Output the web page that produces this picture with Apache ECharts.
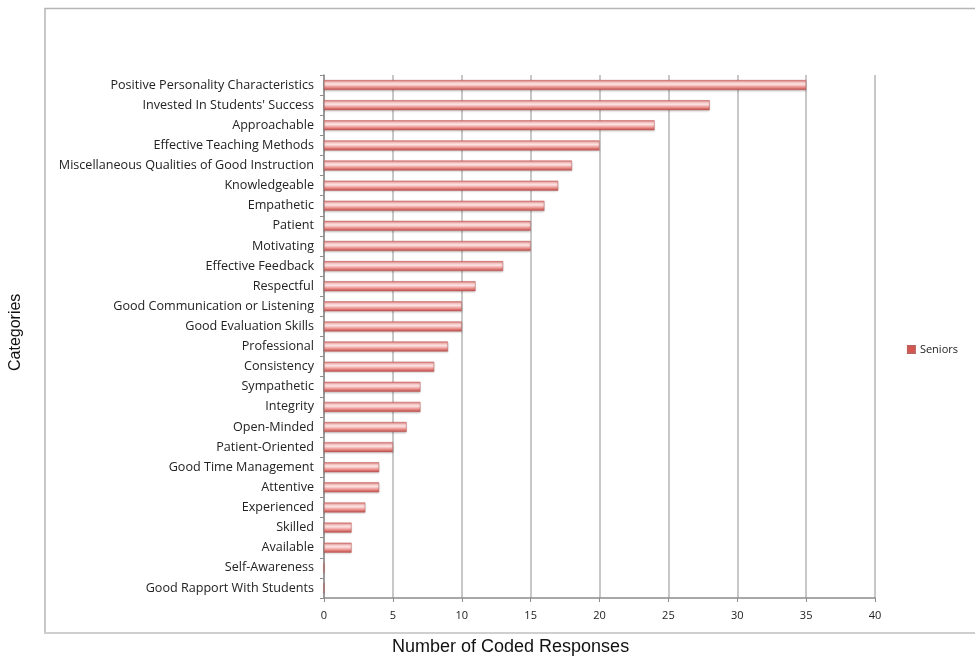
<!DOCTYPE html>
<html>
<head>
<meta charset="utf-8">
<script src="https://cdn.jsdelivr.net/npm/echarts@6/dist/echarts.min.js"></script>
<style>html,body{margin:0;padding:0;background:#fff;}#c{width:975px;height:659px;}</style>
</head>
<body>
<div id="c"></div>
<script>
var categories = [
  "Positive Personality Characteristics",
  "Invested In Students' Success",
  "Approachable",
  "Effective Teaching Methods",
  "Miscellaneous Qualities of Good Instruction",
  "Knowledgeable",
  "Empathetic",
  "Patient",
  "Motivating",
  "Effective Feedback",
  "Respectful",
  "Good Communication or Listening",
  "Good Evaluation Skills",
  "Professional",
  "Consistency",
  "Sympathetic",
  "Integrity",
  "Open-Minded",
  "Patient-Oriented",
  "Good Time Management",
  "Attentive",
  "Experienced",
  "Skilled",
  "Available",
  "Self-Awareness",
  "Good Rapport With Students"
];
var seniors = [35, 28, 24, 20, 18, 17, 16, 15, 15, 13, 11, 10, 10, 9, 8, 7, 7, 6, 5, 4, 4, 3, 2, 2, 0, 0];
var xTicks = [0, 5, 10, 15, 20, 25, 30, 35, 40];

var chart = echarts.init(document.getElementById('c'), null, {renderer: 'canvas'});
var barGrad = new echarts.graphic.LinearGradient(0, 0, 0, 1, [
  {offset: 0, color: '#df706d'},
  {offset: 0.22, color: '#f6c6c5'},
  {offset: 0.42, color: '#fce3e2'},
  {offset: 0.72, color: '#ea8f8c'},
  {offset: 1, color: '#b84744'}
]);
var labelFont = 'Open Sans';
chart.setOption({
  animation: false,
  textStyle: {fontFamily: labelFont},
  graphic: [
    {type: 'polyline', silent: true, shape: {points: [[45, 633], [45, 8.5], [975, 8.5]]},
     style: {fill: 'none', stroke: '#b5b5b5', lineWidth: 1.5}},
    {type: 'line', silent: true, shape: {x1: 44, y1: 633, x2: 975, y2: 633},
     style: {stroke: '#cfcfcf', lineWidth: 2}},
    {type: 'text', silent: true, left: 392, top: 638,
     style: {text: 'Number of Coded Responses', fontSize: 18, fill: '#111', fontFamily: 'Liberation Sans'}},
    {type: 'text', silent: true, rotation: Math.PI / 2, x: 8, y: 371,
     style: {text: 'Categories', fontSize: 16, fill: '#111', fontFamily: 'Liberation Sans', textVerticalAlign: 'top'}}
  ],
  legend: {
    right: 12, top: 339, orient: 'vertical',
    itemWidth: 7, itemHeight: 7, itemGap: 4,
    icon: 'rect',
    textStyle: {fontSize: 11, color: '#222', fontFamily: labelFont},
    data: [{name: 'Seniors', itemStyle: {color: '#d9534f'}}]
  },
  grid: {left: 324, right: 100, top: 75, bottom: 61},
  xAxis: {
    type: 'value', min: 0, max: 40, interval: 5,
    axisLine: {show: true, lineStyle: {color: '#8c8c8c', width: 1.5}},
    axisTick: {show: true, length: 4, lineStyle: {color: '#8c8c8c'}},
    axisLabel: {fontSize: 11, color: '#222', margin: 12, fontFamily: labelFont,
      formatter: function (v) { return xTicks.indexOf(v) >= 0 ? String(v) : ''; }},
    splitLine: {show: true, lineStyle: {color: '#c8c8c8', width: 2}}
  },
  yAxis: {
    type: 'category', data: categories, inverse: true,
    axisLine: {show: true, lineStyle: {color: '#8c8c8c', width: 1.5}},
    axisTick: {show: true, length: 4, lineStyle: {color: '#8c8c8c'}},
    axisLabel: {fontSize: 12.6, color: '#222', margin: 10, fontFamily: labelFont},
    splitLine: {show: false}
  },
  series: [{
    name: 'Seniors', type: 'bar', data: seniors, barWidth: 10,
    itemStyle: {color: barGrad, borderColor: '#c0605d', borderWidth: 0.5,
      shadowColor: 'rgba(0,0,0,0.2)', shadowBlur: 2, shadowOffsetY: 1}
  }]
});
</script>
</body>
</html>
